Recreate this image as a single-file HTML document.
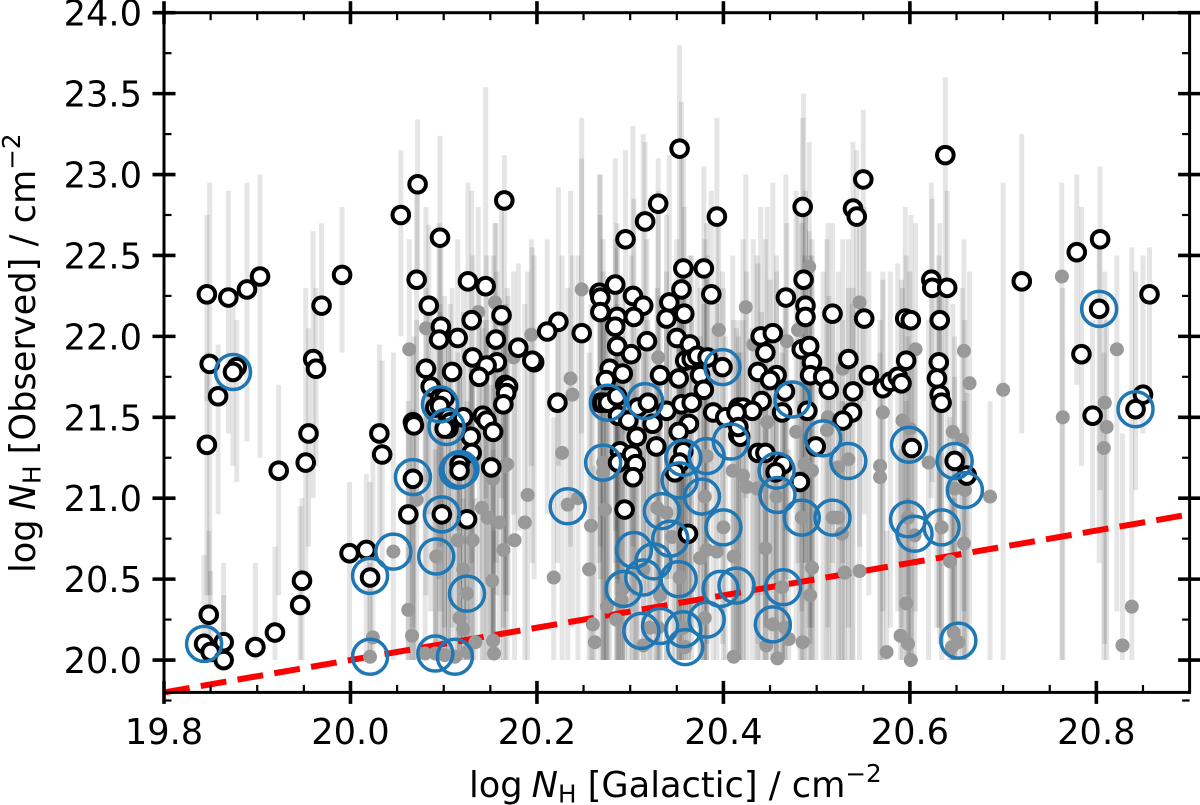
<!DOCTYPE html>
<html lang="en">
<head>
<meta charset="utf-8">
<title>log NH Galactic vs Observed</title>
<style>
html,body{margin:0;padding:0;background:#fff;}
svg{display:block;}
text{font-family:"DejaVu Sans","Liberation Sans",sans-serif;fill:#000;}
</style>
</head>
<body>
<svg id="chart" xmlns="http://www.w3.org/2000/svg" width="1200" height="805" viewBox="0 0 1200 805">
  <rect x="0" y="0" width="1200" height="805" fill="#fff"/>
  <g id="error-bars"></g>
  <g id="unity-line"></g>
  <g id="grey-points"></g>
  <g id="black-points"></g>
  <g id="blue-rings"></g>
  <g id="axes"></g>
  <text x="469" y="797" font-size="35.2">log<tspan dx="9" font-style="italic">N</tspan><tspan font-size="24.6" dy="5.5">H</tspan><tspan dy="-5.5"> [Galactic] / cm</tspan><tspan font-size="24.6" dy="-15">−2</tspan></text>
  <text transform="translate(35 573) rotate(-90)" font-size="35.2">log<tspan dx="9" font-style="italic">N</tspan><tspan font-size="24.6" dy="5.5">H</tspan><tspan dy="-5.5"> [Observed] / cm</tspan><tspan font-size="24.6" dy="-15">−2</tspan></text>
</svg>
<script>
const xTickValues = [19.8, 20.0, 20.2, 20.4, 20.6, 20.8];
const xTickLabels = ["19.8", "20.0", "20.2", "20.4", "20.6", "20.8"];
const yTickValues = [20.0, 20.5, 21.0, 21.5, 22.0, 22.5, 23.0, 23.5, 24.0];
const yTickLabels = ["20.0", "20.5", "21.0", "21.5", "22.0", "22.5", "23.0", "23.5", "24.0"];
const xMinorTicks = [19.85, 19.9, 19.95, 20.05, 20.1, 20.15, 20.25, 20.3, 20.35, 20.45, 20.5, 20.55, 20.65, 20.7, 20.75, 20.85, 20.9];
const yMinorTicks = [19.75, 20.25, 20.75, 21.25, 21.75, 22.25, 22.75, 23.25, 23.75];
const xDomain = [19.8, 20.9];
const yDomain = [19.8, 24.0];
const unityLineX = [19.8, 20.9];
const unityLineY = [19.8, 20.9];

const blackX = [
19.846,19.869,19.889,19.903,19.849,19.878,19.874,19.858,19.846,19.969,
19.960,19.963,19.955,19.952,19.923,19.991,20.031,20.034,20.054,20.072,
20.096,20.165,20.071,20.126,20.145,20.084,20.130,20.162,20.097,20.095,
20.115,20.156,20.180,20.131,20.197,20.195,20.157,20.146,20.081,20.109,
20.138,20.166,20.169,20.167,20.164,20.222,20.086,20.096,20.101,20.091,
20.096,20.067,20.068,20.105,20.107,20.121,20.105,20.101,20.142,20.146,
20.153,20.129,20.130,20.117,20.117,20.151,20.067,20.062,20.098,20.125,
19.999,20.017,20.021,19.948,19.946,19.919,19.898,19.848,19.843,19.864,19.850,19.864,
20.330,20.316,20.295,20.353,20.393,20.485,20.539,20.543,20.357,20.379,
20.284,20.267,20.268,20.303,20.314,20.342,20.355,20.387,20.486,20.467,
20.488,20.488,20.517,20.268,20.286,20.304,20.339,20.358,20.284,20.223,
20.211,20.248,20.286,20.318,20.301,20.350,20.364,20.359,20.366,20.372,
20.383,20.399,20.440,20.453,20.445,20.484,20.492,20.495,20.534,20.437,
20.457,20.450,20.493,20.507,20.513,20.539,20.278,20.292,20.274,20.332,
20.352,20.375,20.379,20.268,20.271,20.276,20.286,20.308,20.319,20.287,
20.298,20.324,20.339,20.355,20.366,20.389,20.402,20.416,20.363,20.352,
20.307,20.328,20.416,20.289,20.357,20.287,20.302,20.306,20.303,20.353,
20.348,20.294,20.362,20.551,20.595,20.601,20.632,20.596,20.556,20.571,
20.579,20.587,20.591,20.631,20.629,20.632,20.634,20.538,20.528,20.441,
20.421,20.431,20.414,20.466,20.463,20.490,20.418,20.416,20.499,20.602,
20.437,20.445,20.464,20.456,20.482,20.648,20.661,20.623,20.624,20.640,
20.638,20.550,20.720,20.779,20.804,20.857,20.803,20.784,20.796,20.850,20.842
];
const blackY = [
22.26,22.24,22.29,22.37,21.83,21.81,21.78,21.63,21.33,22.19,
21.86,21.80,21.40,21.22,21.17,22.38,21.40,21.27,22.75,22.94,
22.61,22.84,22.35,22.34,22.31,22.19,22.10,22.13,22.06,21.98,
21.99,21.98,21.93,21.87,21.84,21.85,21.84,21.82,21.80,21.78,
21.75,21.70,21.69,21.65,21.58,21.59,21.69,21.62,21.62,21.56,
21.57,21.47,21.45,21.50,21.47,21.50,21.43,21.43,21.51,21.48,
21.41,21.38,21.28,21.21,21.17,21.19,21.12,20.90,20.90,20.87,
20.66,20.68,20.51,20.49,20.34,20.17,20.08,20.28,20.10,20.11,20.05,20.00,
22.82,22.71,22.60,23.16,22.74,22.80,22.79,22.74,22.42,22.42,
22.32,22.27,22.24,22.25,22.19,22.21,22.29,22.26,22.35,22.24,
22.19,22.12,22.14,22.15,22.12,22.12,22.11,22.14,22.06,22.09,
22.03,22.02,21.94,21.97,21.89,21.99,21.95,21.85,21.86,21.88,
21.87,21.81,22.00,22.02,21.90,21.92,21.94,21.84,21.86,21.78,
21.76,21.73,21.76,21.75,21.67,21.66,21.80,21.77,21.73,21.76,
21.74,21.76,21.67,21.59,21.59,21.59,21.63,21.56,21.59,21.51,
21.48,21.46,21.54,21.58,21.59,21.53,21.50,21.56,21.46,21.41,
21.38,21.32,21.39,21.29,21.29,21.22,21.27,21.21,21.13,21.22,
21.16,20.93,20.78,22.11,22.11,22.10,22.10,21.85,21.76,21.68,
21.72,21.75,21.71,21.84,21.74,21.64,21.59,21.53,21.48,21.60,
21.56,21.54,21.53,21.66,21.53,21.54,21.38,21.44,21.32,21.31,
21.28,21.28,21.21,21.16,21.10,21.23,21.14,22.35,22.30,22.30,
23.12,22.97,22.34,22.52,22.60,22.26,22.17,21.89,21.51,21.64,21.55
];
const blackHi = [
22.75,22.9,22.95,23.0,22.95,22.1,22.2,21.95,21.9,22.7,
22.65,22.3,22.05,22.3,21.7,22.8,21.95,21.85,23.15,23.34,
23.24,23.12,22.95,22.95,23.54,22.69,22.9,22.8,22.6,22.7,
22.6,22.7,22.45,22.5,22.5,22.55,22.4,22.5,22.3,22.3,
22.3,22.2,22.25,22.1,22.15,22.05,22.2,22.15,22.25,22.05,
22.2,21.95,22.0,22.1,22.2,22.15,22.0,22.05,22.05,22.1,
21.95,21.9,21.8,21.75,21.8,21.7,21.55,21.45,21.4,21.4,
21.1,21.15,21.1,21.0,20.95,20.7,20.6,20.8,20.65,20.6,20.55,20.4,
23.1,23.2,23.15,23.8,23.35,23.35,23.2,23.15,23.1,23.05,
23.1,23.0,23.0,23.3,23.25,23.12,23.45,22.9,23.5,23.0,
22.9,22.8,22.7,22.75,22.7,22.85,22.75,22.8,22.6,22.92,
22.6,23.35,22.55,22.6,22.5,22.6,22.5,22.45,22.5,22.45,
22.5,22.4,22.8,22.95,22.6,22.7,22.65,22.5,22.6,22.45,
22.4,22.35,22.5,22.4,22.25,22.3,22.35,22.3,22.25,22.25,
22.3,22.3,22.2,22.1,22.1,22.15,22.2,22.05,22.1,22.0,
21.95,22.0,22.05,22.1,22.15,22.05,22.0,22.1,22.0,21.95,
21.9,21.8,21.9,21.85,21.8,21.7,21.8,21.7,21.6,21.7,
21.6,21.45,21.3,22.8,22.8,22.75,22.7,22.5,22.4,22.35,
22.4,22.45,22.35,22.5,22.4,22.3,22.25,22.2,22.1,22.15,
22.1,22.05,22.05,22.2,22.05,22.1,21.9,22.0,21.85,21.85,
21.8,21.8,21.7,21.7,21.6,21.75,21.65,22.95,22.85,22.9,
23.6,23.4,23.25,23.0,23.05,22.55,22.65,22.8,22.1,22.5,22.4
];
const blackLo = [
21.6,21.4,21.35,21.25,20.4,21.1,21.2,20.9,20.4,21.75,
21.0,21.2,20.7,20.5,20.4,21.9,20.75,20.6,22.0,22.4,
21.6,22.2,21.0,21.2,21.0,20.9,20.6,21.0,20.7,20.5,
20.8,20.6,20.8,20.5,20.5,20.6,20.4,20.5,20.4,20.2,
20.5,20.4,20.4,20.3,20.2,20.6,20.3,20.3,20.2,20.1,
20.0,20.2,20.0,20.0,20.0,20.1,20.0,20.0,20.0,20.0,
20.0,20.0,20.0,20.0,20.0,20.0,20.0,20.0,20.0,20.0,
20.0,20.0,20.0,20.0,20.0,20.0,20.0,20.0,20.0,20.0,20.0,20.0,
21.7,21.4,21.4,21.9,21.7,21.5,21.7,21.5,21.0,21.0,
20.8,20.6,20.7,20.7,20.6,20.5,20.8,21.1,20.9,20.8,
20.6,20.6,20.6,20.5,20.5,20.4,20.5,20.5,20.6,21.2,
20.9,21.0,20.4,20.4,20.3,20.3,20.2,20.2,20.2,20.2,
20.1,20.1,20.4,20.5,20.2,20.3,20.2,20.2,20.2,20.1,
20.0,20.0,20.1,20.0,20.0,20.0,20.0,20.0,20.0,20.0,
20.0,20.0,20.0,20.0,20.0,20.0,20.0,20.0,20.0,20.0,
20.0,20.0,20.0,20.0,20.0,20.0,20.0,20.0,20.0,20.0,
20.0,20.0,20.0,20.0,20.0,20.0,20.0,20.0,20.0,20.0,
20.0,20.0,20.0,20.9,20.9,20.9,20.8,20.4,20.4,20.3,
20.2,20.3,20.2,20.2,20.2,20.1,20.1,20.0,20.0,20.0,
20.0,20.0,20.0,20.0,20.0,20.0,20.0,20.0,20.0,20.0,
20.0,20.0,20.0,20.0,20.0,20.0,20.0,21.0,21.1,21.0,
21.7,21.6,21.4,21.7,21.05,21.6,20.6,21.2,20.8,21.4,21.05
];

const greyX = [
20.046,20.092,20.164,20.176,20.152,20.062,20.066,20.024,20.021,20.125,
20.121,20.115,20.131,20.117,20.121,20.134,20.153,20.154,20.080,20.091,
20.101,20.112,20.125,20.155,20.081,20.063,20.137,20.168,20.153,20.071,
20.141,20.147,20.160,20.190,20.187,20.194,20.248,20.175,20.236,20.330,
20.395,20.424,20.468,20.480,20.492,20.432,20.528,20.238,20.227,20.166,
20.218,20.256,20.258,20.233,20.244,20.273,20.271,20.271,20.260,20.262,
20.275,20.285,20.291,20.292,20.314,20.321,20.330,20.357,20.359,20.380,
20.375,20.393,20.382,20.411,20.400,20.380,20.329,20.339,20.353,20.314,
20.332,20.345,20.382,20.410,20.421,20.425,20.436,20.445,20.478,20.447,
20.512,20.511,20.487,20.495,20.523,20.495,20.463,20.493,20.453,20.466,
20.470,20.446,20.485,20.411,20.458,20.530,20.484,20.517,20.457,20.763,
20.546,20.606,20.658,20.664,20.700,20.822,20.809,20.764,20.811,20.808,
20.571,20.592,20.600,20.646,20.656,20.620,20.568,20.568,20.534,20.648,
20.659,20.686,20.634,20.598,20.605,20.658,20.643,20.546,20.596,20.590,
20.598,20.575,20.601,20.647,20.652,20.645,20.838,20.828,20.523,20.527
];
const greyY = [
20.67,20.64,20.68,20.74,20.49,20.31,20.15,20.14,20.02,20.41,
20.56,20.74,20.74,20.26,20.19,20.11,20.12,20.04,20.04,20.04,
20.03,20.02,20.05,22.21,22.05,21.92,22.15,21.21,21.12,20.99,
20.94,20.88,20.85,21.02,20.85,22.01,22.29,21.87,21.74,21.87,
22.04,22.18,21.97,22.04,22.43,21.95,21.80,21.64,21.28,21.20,
20.51,20.56,20.83,20.96,21.00,20.93,21.22,21.16,20.22,20.11,
20.33,20.25,20.37,20.44,20.09,20.20,20.20,20.20,20.08,20.26,
20.63,20.67,20.68,20.64,20.82,21.01,20.94,20.91,20.51,20.56,
20.40,20.76,21.26,21.17,21.14,21.07,21.06,20.69,21.41,21.47,
21.50,21.42,21.21,21.17,21.19,20.57,20.45,20.40,20.22,20.20,
20.13,20.09,20.11,20.02,20.01,20.54,20.88,20.88,21.01,22.37,
22.21,21.92,21.91,21.71,21.67,21.92,21.59,21.50,21.44,21.31,
21.53,21.48,21.43,21.41,21.36,21.22,21.20,21.13,21.24,21.06,
21.05,21.01,20.82,20.88,20.77,20.72,20.61,20.55,20.35,20.15,
20.10,20.05,20.00,20.17,20.11,20.08,20.33,20.09,20.88,20.78
];
const greyHi = [
21.9,21.7,22.1,21.9,21.5,21.6,21.1,21.3,20.6,21.6,
22.3,21.9,21.8,21.5,21.0,21.0,21.3,20.8,21.5,21.3,
21.0,21.4,21.2,22.7,22.8,22.6,22.8,22.3,22.5,22.1,
22.1,22.0,22.0,22.4,22.2,22.6,23.1,22.4,22.9,22.9,
22.8,23.0,22.7,22.8,23.2,22.6,22.6,22.5,22.5,22.2,
21.5,21.9,22.2,22.3,22.5,22.2,22.6,22.4,21.7,21.2,
21.8,21.6,21.9,22.0,21.5,21.7,21.9,22.4,21.6,21.9,
22.0,22.2,22.4,22.1,22.3,22.6,22.3,22.4,22.1,21.9,
21.8,22.2,22.7,22.5,22.6,22.4,22.5,22.0,22.9,22.8,
22.7,22.6,22.5,22.6,22.4,21.8,21.9,21.7,21.6,21.7,
21.3,21.5,21.4,20.9,21.1,21.6,22.2,22.2,22.5,22.95,
22.8,22.7,22.6,22.4,22.95,22.5,22.4,22.3,22.1,21.9,
22.4,22.3,22.4,22.2,22.3,22.1,22.1,21.9,22.3,22.0,
22.1,21.6,21.8,22.0,21.9,21.6,21.5,21.6,21.6,21.3,
21.0,20.8,20.7,21.0,21.2,21.0,22.55,21.4,21.9,21.6
];
const greyLo = [
20.0,20.0,20.0,20.0,20.0,20.0,20.0,20.0,20.0,20.0,
20.0,20.0,20.0,20.0,20.0,20.0,20.0,20.0,20.0,20.0,
20.0,20.0,20.0,21.5,21.1,20.6,21.2,20.0,20.0,20.0,
20.0,20.0,20.0,20.0,20.0,21.2,21.4,20.9,20.7,20.4,
20.7,21.0,20.5,20.6,21.5,20.4,20.6,20.2,20.0,20.0,
20.0,20.0,20.0,20.0,20.0,20.0,20.0,20.0,20.0,20.0,
20.0,20.0,20.0,20.0,20.0,20.0,20.0,20.0,20.0,20.0,
20.0,20.0,20.0,20.0,20.0,20.0,20.0,20.0,20.0,20.0,
20.0,20.0,20.0,20.0,20.0,20.0,20.0,20.0,20.1,20.2,
20.2,20.0,20.0,20.0,20.0,20.0,20.0,20.0,20.0,20.0,
20.0,20.0,20.0,20.0,20.0,20.0,20.0,20.0,20.0,20.0,
20.7,20.3,20.3,20.2,20.0,20.3,20.1,20.0,20.0,20.0,
20.0,20.0,20.0,20.0,20.0,20.0,20.0,20.0,20.0,20.0,
20.0,20.0,20.0,20.0,20.0,20.0,20.0,20.0,20.0,20.0,
20.0,20.0,20.0,20.0,20.0,20.0,20.0,20.0,20.0,20.0
];

const ringX = [
19.874,20.067,20.096,20.103,20.115,20.117,20.118,20.098,19.843,20.046,
20.021,20.092,20.125,20.021,20.091,20.112,20.233,20.271,20.276,20.316,
20.357,20.382,20.408,20.353,20.377,20.334,20.400,20.343,20.304,20.325,
20.314,20.293,20.352,20.397,20.414,20.464,20.382,20.312,20.332,20.357,
20.359,20.453,20.474,20.507,20.457,20.458,20.484,20.517,20.534,20.599,
20.648,20.659,20.598,20.605,20.634,20.652,20.803,20.842,20.399
];
const ringY = [
21.78,21.13,21.58,21.44,21.17,21.18,21.18,20.90,20.10,20.67,
20.52,20.64,20.41,20.02,20.04,20.02,20.95,21.22,21.59,21.60,
21.25,21.26,21.35,21.11,21.01,20.92,20.82,20.75,20.68,20.61,
20.51,20.44,20.50,20.44,20.46,20.45,20.25,20.18,20.21,20.19,
20.08,20.22,21.61,21.37,21.17,21.02,20.88,20.88,21.23,21.33,
21.23,21.05,20.87,20.78,20.82,20.12,22.17,21.55,21.81
];

const SVG_NS = "http://www.w3.org/2000/svg";
const plot = {left: 164, right: 1189.6, top: 12.7, bottom: 692.4};
function xs(v) { return plot.left + (v - xDomain[0]) / (xDomain[1] - xDomain[0]) * (plot.right - plot.left); }
function ys(v) { return plot.bottom - (v - yDomain[0]) / (yDomain[1] - yDomain[0]) * (plot.bottom - plot.top); }
function mk(tag, parentId) {
  const el = document.createElementNS(SVG_NS, tag);
  document.getElementById(parentId).appendChild(el);
  return el;
}

function drawBar(x, lo, hi) {
  const l = mk("line", "error-bars");
  
  
  l.setAttribute("x1", xs(x));
  l.setAttribute("x2", xs(x));
  l.setAttribute("y1", ys(lo));
  l.setAttribute("y2", ys(hi));
  l.setAttribute("stroke", "#000");
  l.setAttribute("stroke-opacity", "0.1");
  l.setAttribute("stroke-width", "5");
}
blackX.forEach(function (x, i) { drawBar(x, blackLo[i], blackHi[i]); });
greyX.forEach(function (x, i) { drawBar(x, greyLo[i], greyHi[i]); });

const unity = mk("line", "unity-line");


unity.setAttribute("x1", xs(unityLineX[0]));
unity.setAttribute("y1", ys(unityLineY[0]));
unity.setAttribute("x2", xs(unityLineX[1]));
unity.setAttribute("y2", ys(unityLineY[1]));
unity.setAttribute("stroke", "#ff0000");
unity.setAttribute("stroke-width", "6");
unity.setAttribute("stroke-dasharray", "26 11.3");

greyX.forEach(function (x, i) {
  const c = mk("circle", "grey-points");
  
  
  c.setAttribute("cx", xs(x));
  c.setAttribute("cy", ys(greyY[i]));
  c.setAttribute("r", "7");
  c.setAttribute("fill", "#999");
});
blackX.forEach(function (x, i) {
  const c = mk("circle", "black-points");
  
  
  c.setAttribute("cx", xs(x));
  c.setAttribute("cy", ys(blackY[i]));
  c.setAttribute("r", "8.3");
  c.setAttribute("fill", "#fff");
  c.setAttribute("stroke", "#000");
  c.setAttribute("stroke-width", "4");
});
ringX.forEach(function (x, i) {
  const c = mk("circle", "blue-rings");
  
  
  c.setAttribute("cx", xs(x));
  c.setAttribute("cy", ys(ringY[i]));
  c.setAttribute("r", "17.5");
  c.setAttribute("fill", "none");
  c.setAttribute("stroke", "#1f77b4");
  c.setAttribute("stroke-width", "3.5");
});

function line(x1, y1, x2, y2, w, name) {
  const l = mk("line", "axes");
  
  
  l.setAttribute("x1", x1);
  l.setAttribute("y1", y1);
  l.setAttribute("x2", x2);
  l.setAttribute("y2", y2);
  l.setAttribute("stroke", "#000");
  l.setAttribute("stroke-width", w);
}
function rectSpines() {
  const r = mk("rect", "axes");
  
  
  r.setAttribute("x", plot.left);
  r.setAttribute("y", plot.top);
  r.setAttribute("width", plot.right - plot.left);
  r.setAttribute("height", plot.bottom - plot.top);
  r.setAttribute("fill", "none");
  r.setAttribute("stroke", "#000");
  r.setAttribute("stroke-width", "3");
}
rectSpines();
const majorLen = 11.5;
const minorLen = 7.5;
xTickValues.forEach(function (v, i) {
  const x = xs(v);
  line(x, plot.bottom - majorLen, x, plot.bottom + majorLen, 3.6, "x-major-tick-bottom");
  line(x, plot.top - majorLen, x, plot.top + majorLen, 3.6, "x-major-tick-top");
  const t = mk("text", "axes");
  
  
  t.setAttribute("x", x);
  t.setAttribute("y", 744);
  t.setAttribute("text-anchor", "middle");
  t.setAttribute("font-size", "35.2");
  t.textContent = xTickLabels[i];
});
xMinorTicks.forEach(function (v) {
  const x = xs(v);
  line(x, plot.bottom - minorLen, x, plot.bottom, 2.2, "x-minor-tick-bottom");
  line(x, plot.top, x, plot.top + minorLen, 2.2, "x-minor-tick-top");
});
yTickValues.forEach(function (v, i) {
  const y = ys(v);
  line(plot.left - majorLen, y, plot.left + majorLen, y, 3.6, "y-major-tick-left");
  line(plot.right - majorLen, y, plot.right + majorLen, y, 3.6, "y-major-tick-right");
  const t = mk("text", "axes");
  
  
  t.setAttribute("x", 142);
  t.setAttribute("y", y + 13);
  t.setAttribute("text-anchor", "end");
  t.setAttribute("font-size", "35.2");
  t.textContent = yTickLabels[i];
});
yMinorTicks.forEach(function (v) {
  const y = ys(v);
  line(plot.left, y, plot.left + minorLen, y, 2.2, "y-minor-tick-left");
  line(plot.right - minorLen, y, plot.right, y, 2.2, "y-minor-tick-right");
});
</script>
</body>
</html>
